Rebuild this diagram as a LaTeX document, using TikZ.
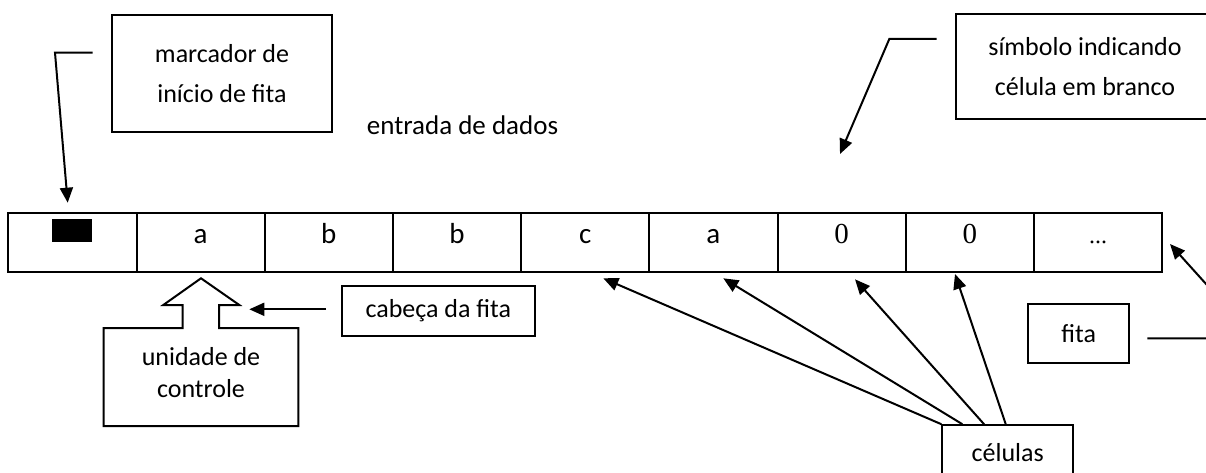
\documentclass[tikz,border=0pt]{standalone}
\usepackage{fontspec}
\setmainfont{Carlito}
\newfontfamily\tapeserif{Liberation Serif}
\usetikzlibrary{arrows.meta}
\tikzset{
  lbl/.style={draw, line width=2pt, font=\fontsize{26}{40}\selectfont, align=center, inner sep=0pt},
  cellbox/.style={draw, line width=2pt, outer sep=0pt, minimum width=128.2pt, text height=30.6pt, text depth=29pt, inner sep=0pt, anchor=base west, font=\fontsize{29}{30}\selectfont},
  conn/.style={line width=2pt, -{Triangle[length=15pt,width=13pt]}},
  plain/.style={line width=2pt}
}
\begin{document}
\begin{tikzpicture}[x=1pt,y=-1pt]
\useasboundingbox (0,0) rectangle (1206,473);
% tape
\node[cellbox] (c0) at (8.3,243.3) {\raisebox{1.6pt}{\rule{40pt}{22.4pt}}};
\node[cellbox] (c1) at (c0.base east) {a};
\node[cellbox] (c2) at (c1.base east) {b};
\node[cellbox] (c3) at (c2.base east) {b};
\node[cellbox] (c4) at (c3.base east) {c};
\node[cellbox] (c5) at (c4.base east) {a};
\node[cellbox] (c6) at (c5.base east) {\tapeserif 0};
\node[cellbox] (c7) at (c6.base east) {\tapeserif 0};
\node[cellbox] (c8) at (c7.base east) {\tapeserif\fontsize{24}{30}\selectfont ...};
% label boxes
\node[lbl, minimum width=220.6pt, minimum height=117.3pt] (marc) at (222,73.7) {marcador de\\início de fita};
\node[lbl, minimum width=258pt, minimum height=105pt] (simb) at (1085,66.5) {símbolo indicando\\célula em branco};
\node[lbl, minimum width=193.3pt, minimum height=50pt] (cab) at (438.3,310.7) {cabeça da fita};
\node[lbl, minimum width=100.7pt, minimum height=59.3pt] (fita) at (1078.7,333.7) {fita};
\node[lbl, minimum width=130.7pt, minimum height=55pt] (cel) at (1007.7,452.7) {células};
\node[font=\fontsize{27}{30}\selectfont, inner sep=0pt] (entr) at (462.5,125) {entrada de dados};
% control unit (block arrow shape)
\draw[line width=2pt, line join=miter] (103.7,328) -- (182.7,328) -- (182.7,305) -- (163.3,305) -- (201,278.3) -- (239.3,305) -- (219,305) -- (219,328) -- (298.3,328) -- (298.3,426) -- (103.7,426) -- cycle;
\node[font=\fontsize{26}{32}\selectfont, align=center, inner sep=0pt] (uc) at (201,372.5) {unidade de\\controle};
% connectors
\coordinate (m1) at (92.7,52.7);
\coordinate (m2) at (55,52.7);
\coordinate (mt) at (67.7,202.7);
\draw[conn] (m1) -- (m2) -- (mt);
\coordinate (s1) at (936.7,39);
\coordinate (s2) at (889.3,39);
\coordinate (st) at (840,154);
\draw[conn] (s1) -- (s2) -- (st);
\coordinate (h1) at (326,309.3);
\coordinate (ht) at (249.3,309.3);
\draw[conn] (h1) -- (ht);
\coordinate (f1) at (1147.3,338.3);
\coordinate (f2) at (1255,338.3);
\coordinate (ft) at (1170,244);
\draw[conn] (f1) -- (f2) -- (ft);
\coordinate (t4) at (603.3,278.3);
\coordinate (t5) at (723.3,278.3);
\coordinate (t6) at (855,279.3);
\coordinate (t7) at (955,274);
\draw[conn] (cel.north west) -- (t4);
\draw[conn] ([xshift=21pt]cel.north west) -- (t5);
\draw[conn] ([xshift=42.7pt]cel.north west) -- (t6);
\draw[conn] ([xshift=64.4pt]cel.north west) -- (t7);
\end{tikzpicture}
\end{document}
